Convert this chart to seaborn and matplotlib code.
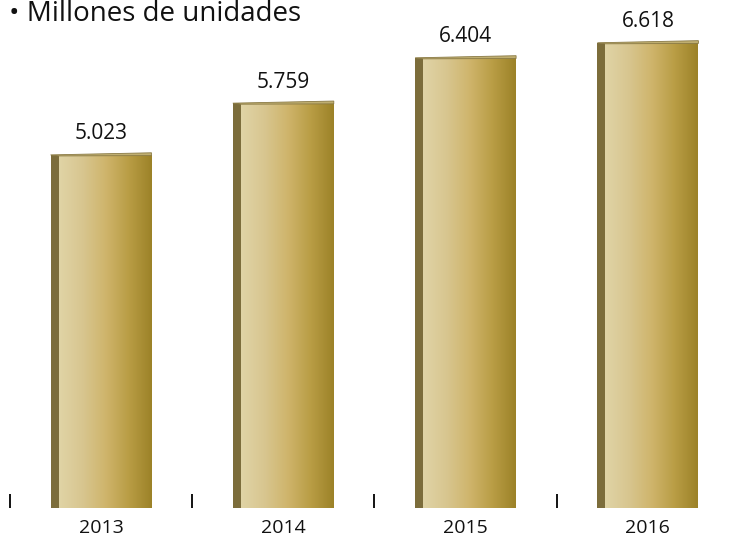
import numpy as np
import pandas as pd
import matplotlib
matplotlib.use('Agg')
import matplotlib.pyplot as plt
import seaborn as sns
from matplotlib.colors import LinearSegmentedColormap
from matplotlib.patches import Rectangle, Polygon

# data
years = ['2013', '2014', '2015', '2016']
units = [5.023, 5.759, 6.404, 6.618]
value_labels = ['5.023', '5.759', '6.404', '6.618']
title = '\u2022 Millones de unidades'

df = pd.DataFrame({'year': years, 'units': units})

sns.set_theme(style='white')
plt.rcParams['font.family'] = ['Open Sans', 'DejaVu Sans']

gold = LinearSegmentedColormap.from_list(
    'gold', ['#e0d4a6', '#d8c690', '#cfb56c', '#b99d45', '#9c8228'])
side_col = '#7c6d3b'
side_w = 0.044

fig = plt.figure(figsize=(7.33, 5.39), dpi=100)
ax = fig.add_axes([0, 31 / 539, 1, 508 / 539])

sns.barplot(data=df, x='year', y='units', ax=ax, width=0.51,
            color='#cfb56c', saturation=1, errorbar=None)

grad = np.linspace(0, 1, 256).reshape(1, -1)
for i, bar in enumerate(ax.patches):
    # shift face right so face + dark side is centred on the category
    bar.set_x(bar.get_x() + side_w / 2)
    x0 = bar.get_x()
    x1 = x0 + bar.get_width()
    h = bar.get_height()
    bar.set_edgecolor('none')
    im = ax.imshow(grad, extent=[x0, x1, 0, h], aspect='auto', cmap=gold,
                   zorder=3, interpolation='bicubic')
    im.set_clip_path(bar)
    ax.add_patch(Rectangle((x0 - side_w, 0), side_w, h, color=side_col,
                           lw=0, zorder=3))
    # slanted top edge
    ax.add_patch(Polygon([(x0 - side_w, h), (x1, h + 0.03), (x1, h - 0.01),
                          (x0, h - 0.015)], closed=True, facecolor='#bfae70',
                         edgecolor='#8a7a45', lw=0.6, zorder=4))
    ax.text(i, h + 0.3, value_labels[i], ha='center', va='center',
            fontsize=15, color='#111111')

ax.set_xlim(-101 / 182.3, (733 - 101) / 182.3)
ax.set_ylim(0, 508 / 70.3)
ax.set_xlabel('')
ax.set_ylabel('')
ax.set_yticks([])
sns.despine(ax=ax, left=True, bottom=True)

ax.set_xticks(np.arange(len(years)) - 0.5, minor=True)
ax.tick_params(axis='x', which='major', length=0, pad=8, labelsize=14,
               labelcolor='#111111')
ax.tick_params(axis='x', which='minor', bottom=True, direction='in',
               length=10, width=1.3, color='black')

fig.text(9 / 733, 1 - 21 / 539, title, ha='left', va='baseline',
         fontsize=20, color='#111111')

fig.savefig('out.png', dpi=100)
